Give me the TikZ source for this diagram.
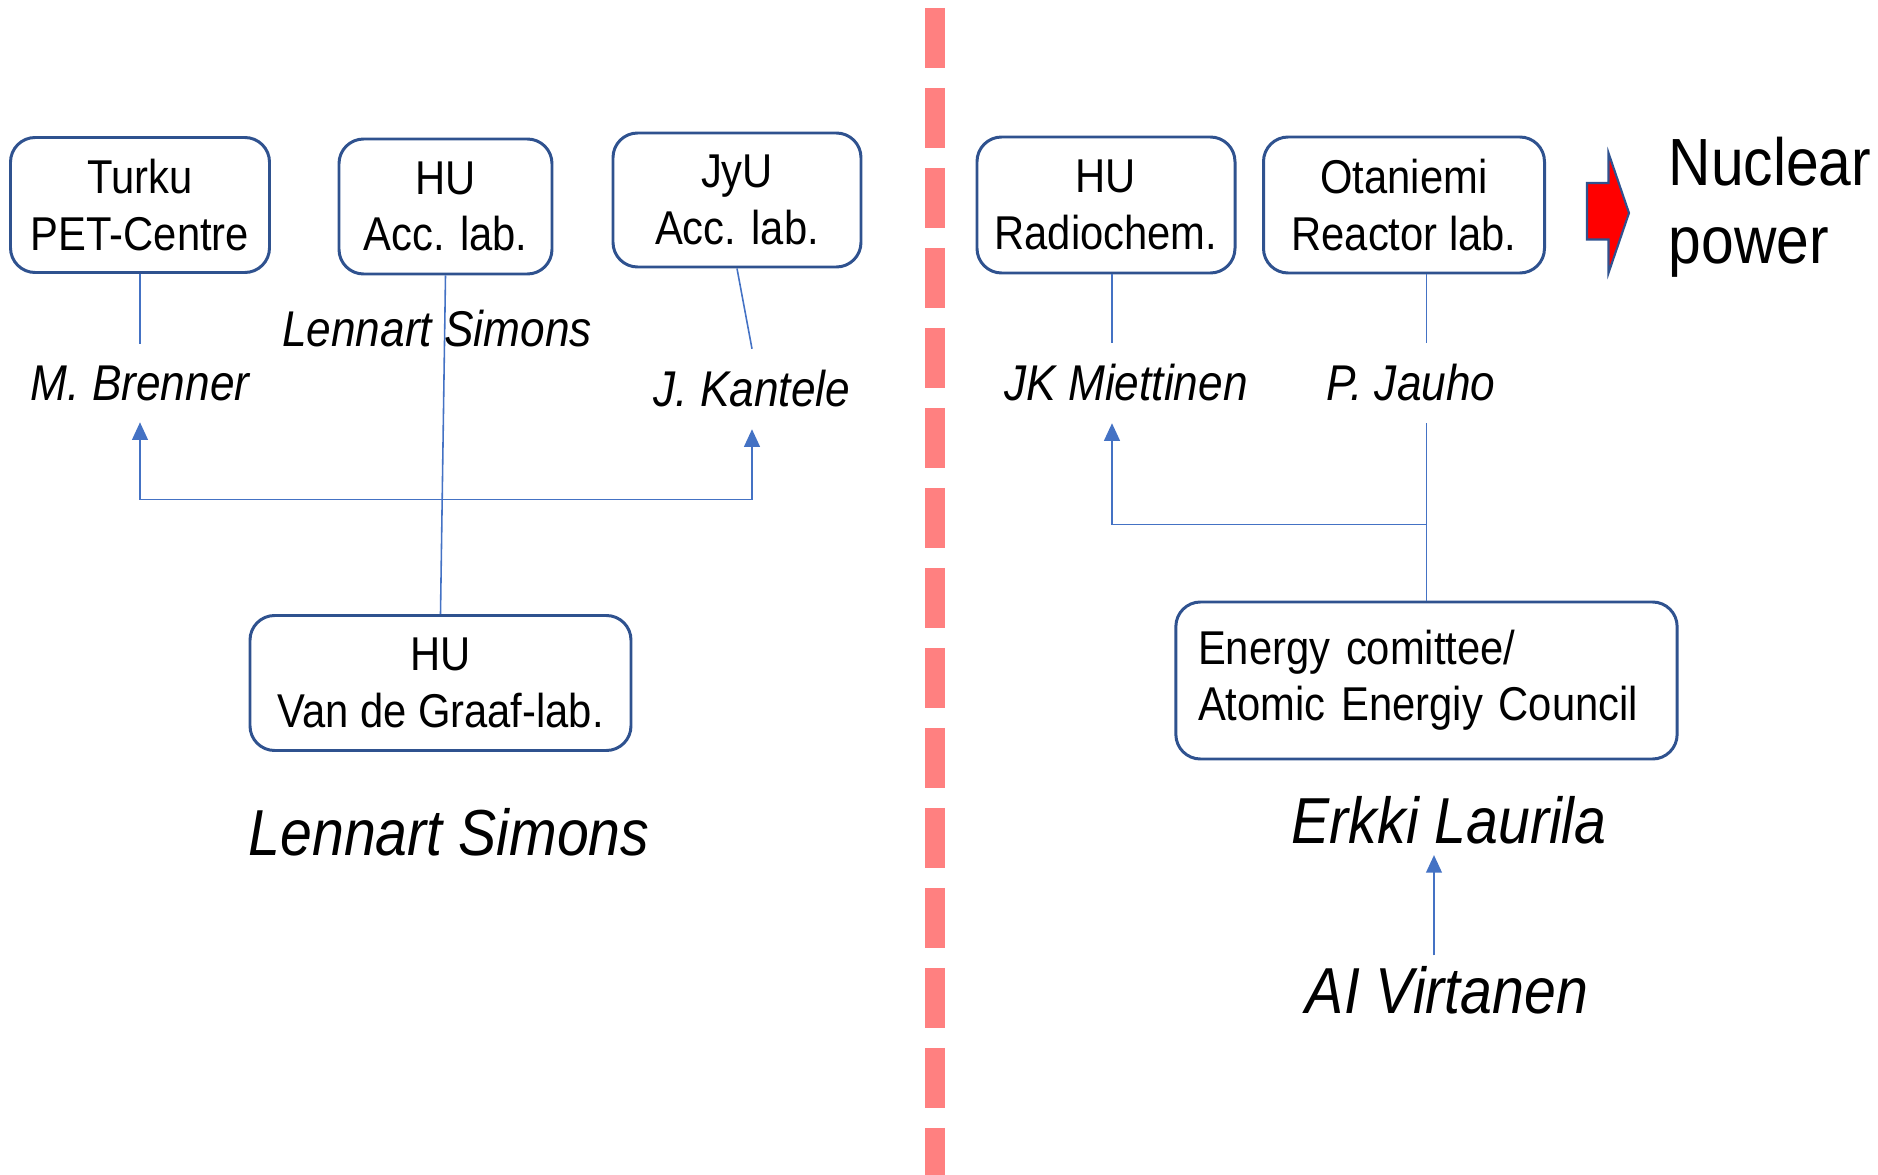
\documentclass[tikz,border=0pt]{standalone}
\usepackage{fontspec}
\setmainfont[FakeStretch=0.88]{Liberation Sans}
\usepackage{xcolor}
\usepackage{tikz}
\usetikzlibrary{shapes, arrows.meta, calc}

\definecolor{boxblue}{HTML}{2F528F}
\definecolor{linkblue}{HTML}{4472C4}
\definecolor{divpink}{HTML}{FF8080}

\begin{document}
\begin{tikzpicture}[
    lab/.style={rectangle, rounded corners=7pt, draw=boxblue, line width=0.85pt, minimum height=1.35cm, inner sep=2pt, align=center, font=\fontsize{13.5}{16}\selectfont},
    person/.style={inner sep=6pt, font=\itshape\fontsize{14.3}{17}\selectfont},
    founder/.style={inner sep=3pt, font=\itshape\fontsize{18.5}{22}\selectfont},
    link/.style={draw=linkblue, line width=0.45pt},
    tip/.style={-{Triangle[length=5pt,width=4.5pt]}},
    divider/.style={draw=divpink, line width=5.69pt, dash pattern=on 17.07pt off 5.69pt},
]
\useasboundingbox (0,0) rectangle (18.78,-11.75);

% Divider
\draw [divider] (9.35,-0.08) -- (9.35,-11.75);

% Left: labs
\node (turku) [lab, minimum width=2.59cm] at (1.40,-2.05) {Turku\\PET-Centre};
\node (huacc) [lab, minimum width=2.13cm] at (4.455,-2.065) {HU\\Acc. lab.};
\node (jyu) [lab, minimum width=2.48cm, minimum height=1.34cm] at (7.37,-2.00) {JyU\\Acc. lab.};

% Left: people
\node (brenner) [person] at (1.40,-3.83) {M. Brenner};
\node (simonsA) [person, inner sep=2pt] at (4.37,-3.29) {Lennart Simons};
\node (kantele) [person] at (7.52,-3.89) {J. Kantele};

% Van de Graaf lab
\node (vdg) [lab, minimum width=3.81cm] at (4.405,-6.83) {HU\\Van de Graaf-lab.};
\node (simonsB) [founder] at (4.49,-8.32) {Lennart Simons};

% Right: labs
\node (radiochem) [lab, minimum width=2.58cm, minimum height=1.36cm] at (11.06,-2.05) {HU\\Radiochem.};
\node (otaniemi) [lab, minimum width=2.81cm, minimum height=1.36cm] at (14.04,-2.05) {Otaniemi\\Reactor lab.};

% Right: people
\node (miettinen) [person] at (11.26,-3.83) {JK Miettinen};
\node (jauho) [person] at (14.11,-3.83) {P. Jauho};

% Energy council
\node (energy) [lab, minimum width=5.01cm, minimum height=1.57cm, text width=4.57cm, inner sep=6.3pt, align=left] at (14.265,-6.805) {Energy comittee/\\Atomic Energiy Council};
\node (laurila) [founder] at (14.49,-8.20) {Erkki Laurila};
\node (virtanen) [founder] at (14.47,-9.905) {AI Virtanen};

% Nuclear power
\draw [fill=red, draw=boxblue, line width=0.6pt] (15.87,-1.83) -- (16.085,-1.83) -- (16.085,-1.53) -- (16.29,-2.13) -- (16.085,-2.73) -- (16.085,-2.395) -- (15.87,-2.395) -- cycle;
\node (nuclear) [anchor=west, align=left, inner sep=0pt, font=\fontsize{19}{22.2}\selectfont] at (16.68,-2.07) {Nuclear\\power};

% Links left
\draw [link] (turku.south) -- (brenner.north);
\draw [link] (jyu.south) -- (kantele.north);
\draw [link] (huacc.south) -- (vdg.north);
\coordinate (jl) at ($(huacc.south)!0.662!(vdg.north)$);
\draw [link, tip] (jl) -| (brenner.south);
\draw [link, tip] (jl) -| (kantele.south);

% Links right
\coordinate (rc) at ([xshift=0.06cm]radiochem.south);
\draw [link] (rc) -- (rc |- miettinen.north);
\draw [link] (otaniemi.south -| energy.north) -- (energy.north |- jauho.north);
\draw [link] (energy.north) -- (energy.north |- jauho.south);
\coordinate (jr) at ($(energy.north)+(0,0.76)$);
\draw [link, tip] (jr) -| (rc |- miettinen.south);
\draw [link, tip] ([xshift=-0.13cm]virtanen.north) -- ([xshift=-0.13cm]virtanen.north |- laurila.south);

\end{tikzpicture}
\end{document}
